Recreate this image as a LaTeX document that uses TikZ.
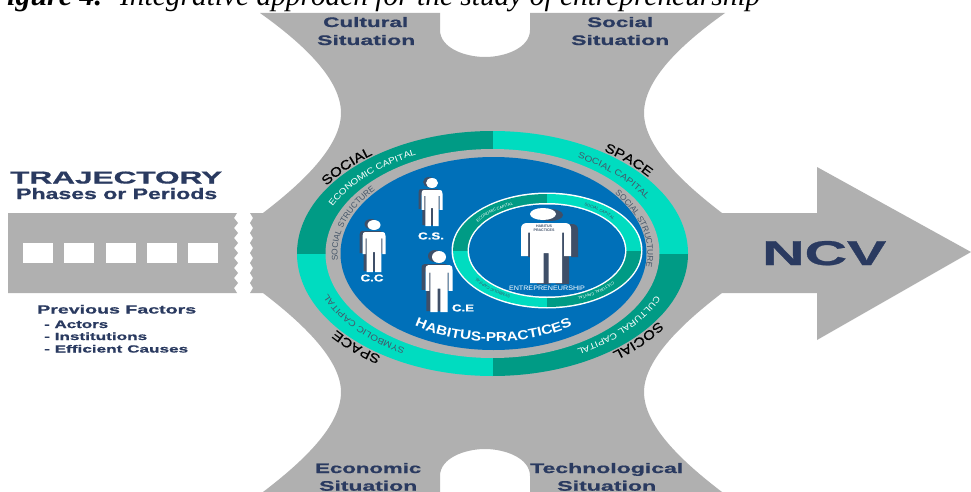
\documentclass[tikz,border=0pt]{standalone}
\usepackage{fontspec}
\usepackage{graphicx}
\usetikzlibrary{decorations.text}
\setmainfont{Liberation Serif}
\newfontfamily\lf{Liberation Sans}
\newfontfamily\wf[FakeStretch=1.18]{Liberation Sans}
\newfontfamily\mf[FakeStretch=1.18,FakeBold=0.5]{Liberation Sans}
\newfontfamily\hf[UprightFont=* Bold,FakeBold=0.7]{Liberation Sans}
\definecolor{gr}{HTML}{B0B0B0}
\definecolor{navy}{HTML}{2A3A60}
\definecolor{dk}{HTML}{009B85}
\definecolor{br}{HTML}{00DCC0}
\definecolor{blu}{HTML}{0070B9}
\definecolor{shd}{HTML}{3F4F68}
\definecolor{tgr}{HTML}{465669}
\tikzset{
  lbl/.style={anchor=base west,inner sep=0pt,text=navy,font=\hf},
  wlbl/.style={anchor=center,inner sep=0pt,text=white,font=\hf},
  captxt/.style={anchor=base west,inner sep=0pt,text=black}
}
% stretched label: name, x, baseline, width, height, text
\newcommand{\wl}[6]{\node[lbl] (#1) at (#2,#3) {\resizebox{#4pt}{#5pt}{#6}};}
% text on a concentric ellipse: rx ry cx cy t0 t1 colour format text
\newcommand{\ringtext}[9]{\path[decorate,decoration={text along path,text color=#7,text align=center,text={|#8|#9}}]
  plot[domain=#5:#6,samples=50] ({#3+#1*cos(\x)},{#4-#2*sin(\x)});}
% person: cx top w h
\newcommand{\pbody}[5]{\begin{scope}[shift={(#1,#2)},x=#3pt,y=-#4pt]
  \fill[#5] (-.5,.1) .. controls (-.5,.03) and (-.45,0) .. (-.38,0) -- (.38,0) .. controls (.45,0) and (.5,.03) .. (.5,.1)
   -- (.5,.55) -- (.36,.55) -- (.36,.16) -- (.32,.16) -- (.32,1) -- (.05,1) -- (.05,.5) -- (-.05,.5) -- (-.05,1) -- (-.32,1)
   -- (-.32,.16) -- (-.36,.16) -- (-.36,.55) -- (-.5,.55) -- cycle;
  \end{scope}}
% person with head and shadow: cx top w h  hx hy hrx hry / dx dy given in \sdx \sdy
\newcommand{\hfig}[8]{%
  \pbody{\the\numexpr#1+\sdx\relax}{\the\numexpr#2+\sdy\relax}{#3}{#4}{shd}
  \fill[shd] (#5+\sdx,#6+\sdy) ellipse [x radius=#7,y radius=#8];
  \pbody{#1}{#2}{#3}{#4}{white}
  \fill[white] (#5,#6) ellipse [x radius=#7,y radius=#8];}
\begin{document}
\begin{tikzpicture}[x=1pt,y=-1pt]
\useasboundingbox (0,0) rectangle (971,492);
\clip (0,0) rectangle (971,492);
\fill[white] (0,0) rectangle (971,492);
% caption
\node[captxt] (capa) at (-13,5.5) {\resizebox{115pt}{!}{\bfseries\itshape Figure 4.}};
\node[captxt] (capb) at (120,5.5) {\resizebox{640pt}{!}{\itshape Integrative approach for the study of entrepreneurship}};
% central gray shape + arrow
\fill[gr] (260,13) -- (440,13) -- (440,30) .. controls (440,48) and (465,57) .. (485,57)
  .. controls (505,57) and (530,48) .. (530,30) -- (530,13) -- (725,13)
  .. controls (680,45) and (644,80) .. (644,113) .. controls (644,150) and (692,190) .. (722,213)
  -- (817,213) -- (817,167) -- (971,252) -- (817,340) -- (817,293) -- (722,293)
  .. controls (692,316) and (644,356) .. (644,392) .. controls (644,425) and (680,460) .. (722,492)
  -- (530,492) -- (530,476) .. controls (530,458) and (505,449) .. (485,449)
  .. controls (465,449) and (440,458) .. (440,476) -- (440,492) -- (263,492)
  .. controls (305,460) and (341,425) .. (341,392) .. controls (341,356) and (293,316) .. (263,293)
  -- (250,293) -- (253,288) -- (250,283) -- (253,278) -- (250,273) -- (253,268) -- (250,263) -- (253,258)
  -- (250,253) -- (253,248) -- (250,243) -- (253,238) -- (250,233) -- (253,228) -- (250,223) -- (253,218) -- (250,213)
  -- (263,213) .. controls (293,190) and (341,150) .. (341,113) .. controls (341,80) and (305,45) .. (260,13) -- cycle;
% trajectory strip
\fill[gr] (8,213) -- (237,213) -- (234,218) -- (238,223) -- (234,228) -- (238,233) -- (234,238) -- (238,243) -- (234,248)
  -- (238,253) -- (234,258) -- (238,263) -- (234,268) -- (238,273) -- (234,278) -- (238,283) -- (234,288) -- (237,293) -- (8,293) -- cycle;
\foreach \xa in {23,64,106,147,188} \fill[white] (\xa,243) rectangle ++(30,20);
% outer ring
\begin{scope}
  \clip (492.5,253.5) ellipse [x radius=195.5,y radius=122.5];
  \fill[dk] (290,120) rectangle (492.5,253.5);
  \fill[br] (492.5,120) rectangle (700,253.5);
  \fill[dk] (492.5,253.5) rectangle (700,385);
  \fill[br] (290,253.5) rectangle (492.5,385);
\end{scope}
\fill[gr] (492.5,253.5) ellipse [x radius=167,y radius=104.5];
\fill[blu] (493.5,253.5) ellipse [x radius=153,y radius=96.5];
% inner ring
\fill[white] (547,250.5) ellipse [x radius=95.5,y radius=58];
\begin{scope}
  \clip (547,250.5) ellipse [x radius=94,y radius=56.5];
  \fill[dk] (450,190) rectangle (547,251);
  \fill[br] (547,190) rectangle (645,251);
  \fill[dk] (547,251) rectangle (645,310);
  \fill[br] (450,251) rectangle (547,310);
\end{scope}
\fill[white] (547,250.5) ellipse [x radius=79.5,y radius=47.5];
\fill[blu] (547,250.5) ellipse [x radius=78,y radius=46];
% persons
\def\sdx{-3}\def\sdy{-1}
\hfig{432}{190}{21}{36}{432}{183}{6}{5}
\hfig{374}{232}{23}{40}{374}{225}{6.5}{5}
\def\sdx{-4}\def\sdy{-1}
\hfig{439}{265}{27}{47}{439}{257}{7}{6}
\def\sdx{7}\def\sdy{1}
\hfig{546}{223}{50}{60}{543}{214}{13}{6}
\node[wlbl] (cs) at (431,236) {\resizebox{26pt}{7pt}{C.S.}};
\node[wlbl] (cc) at (372,278) {\resizebox{23pt}{7pt}{C.C}};
\node[wlbl] (ce) at (463,308) {\resizebox{22pt}{7pt}{C.E}};
\node[anchor=center,inner sep=0pt,text=shd,font=\lf\bfseries\fontsize{3.6}{3.8}\selectfont,align=center] (hp) at (544,228) {HABITUS\\PRACTICES};
\node[wlbl,font=\lf] (ent) at (547,288) {\resizebox{76pt}{4.5pt}{ENTREPRENEURSHIP}};
% ring texts
\ringtext{198}{124}{492.5}{253.5}{170}{110}{black}{\mf\fontsize{13}{13}\selectfont}{SOCIAL}
\ringtext{198}{124}{492.5}{253.5}{74}{14}{black}{\mf\fontsize{13}{13}\selectfont}{SPACE}
\ringtext{198}{124}{492.5}{253.5}{-10}{-70}{black}{\mf\fontsize{13}{13}\selectfont}{SOCIAL}
\ringtext{198}{124}{492.5}{253.5}{-106}{-166}{black}{\mf\fontsize{13}{13}\selectfont}{SPACE}
\ringtext{177}{109}{492.5}{253.5}{173}{103}{white}{\wf\fontsize{8.5}{9}\selectfont}{ECONOMIC CAPITAL}
\ringtext{177}{109}{492.5}{253.5}{77}{7}{tgr}{\wf\fontsize{8.5}{9}\selectfont}{SOCIAL CAPITAL}
\ringtext{177}{109}{492.5}{253.5}{-4}{-74}{white}{\wf\fontsize{8.5}{9}\selectfont}{CULTURAL CAPITAL}
\ringtext{177}{109}{492.5}{253.5}{-107}{-177}{tgr}{\wf\fontsize{8.5}{9}\selectfont}{SYMBOLIC CAPITAL}
\ringtext{155}{97}{492.5}{253.5}{204}{124}{tgr}{\lf\fontsize{8.3}{8}\selectfont}{SOCIAL STRUCTURE}
\ringtext{155}{97}{492.5}{253.5}{53}{-27}{tgr}{\lf\fontsize{8.3}{8}\selectfont}{SOCIAL STRUCTURE}
\ringtext{139}{88}{493.5}{253.5}{-130}{-50}{white}{\wf\bfseries\fontsize{13}{13}\selectfont}{HABITUS-PRACTICES}
\ringtext{84}{50}{547}{250.5}{165}{100}{white}{\lf\fontsize{4}{4}\selectfont}{ECONOMIC CAPITAL}
\ringtext{84}{50}{547}{250.5}{80}{15}{shd}{\lf\fontsize{4}{4}\selectfont}{SOCIAL CAPITAL}
\ringtext{84}{50}{547}{250.5}{-15}{-85}{white}{\lf\fontsize{4}{4}\selectfont}{CULTURAL CAPITAL}
\ringtext{84}{50}{547}{250.5}{-100}{-170}{shd}{\lf\fontsize{4}{4}\selectfont}{SYMBOLIC CAPITAL}
% labels
\wl{traj}{10}{183.5}{212}{12}{TRAJECTORY}
\wl{phases}{16}{199}{201}{11}{Phases or Periods}
\wl{prev}{37}{313.5}{159}{8.5}{Previous Factors}
\wl{act}{44}{328}{64}{7.5}{- Actors}
\wl{inst}{44}{340}{103}{7.5}{- Institutions}
\wl{eff}{44}{352.5}{144}{7.5}{- Efficient Causes}
\wl{cult}{323}{27}{85}{10}{Cultural}
\wl{sit1}{317}{45}{98}{10}{Situation}
\wl{soc}{587}{27}{66}{10}{Social}
\wl{sit2}{571}{45}{98}{10}{Situation}
\wl{econ}{315}{473}{106}{10}{Economic}
\wl{sit3}{319}{490.7}{98}{10}{Situation}
\wl{tech}{530}{473}{153}{10}{Technological}
\wl{sit4}{557}{490.7}{99}{10}{Situation}
\wl{ncv}{762}{265}{124}{24}{NCV}
\end{tikzpicture}
\end{document}
